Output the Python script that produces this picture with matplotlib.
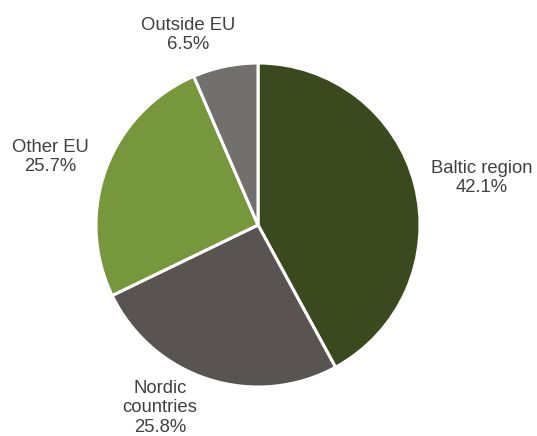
import matplotlib.pyplot as plt

plt.rcParams['font.family'] = ['Liberation Sans', 'DejaVu Sans']

categories = ["Baltic region", "Nordic\ncountries", "Other EU", "Outside EU"]
shares = [42.1, 25.8, 25.7, 6.5]
colors = ["#3a4a1e", "#595452", "#76973b", "#72706d"]

# label anchor points (pixel coords, y measured from top)
label_pos = [(482, 178), (160, 408), (50, 157), (188, 35)]

W, H = 537, 436
fig = plt.figure(figsize=(W / 100, H / 100), dpi=100)
ax = fig.add_axes([0, 0, 1, 1])

ax.pie(shares, colors=colors, startangle=90, counterclock=False,
       center=(258, H - 225), radius=162, frame=True,
       wedgeprops=dict(edgecolor='white', linewidth=2.2))
ax.set_xlim(0, W)
ax.set_ylim(0, H)
ax.set_aspect('equal')
ax.axis('off')

for name, val, (x, y) in zip(categories, shares, label_pos):
    ax.text(x, H - y, f"{name}\n{val:.1f}%", ha='center', va='center',
            fontsize=13.3, color='#404040', linespacing=1.2)

fig.savefig("out.png", dpi=100)
